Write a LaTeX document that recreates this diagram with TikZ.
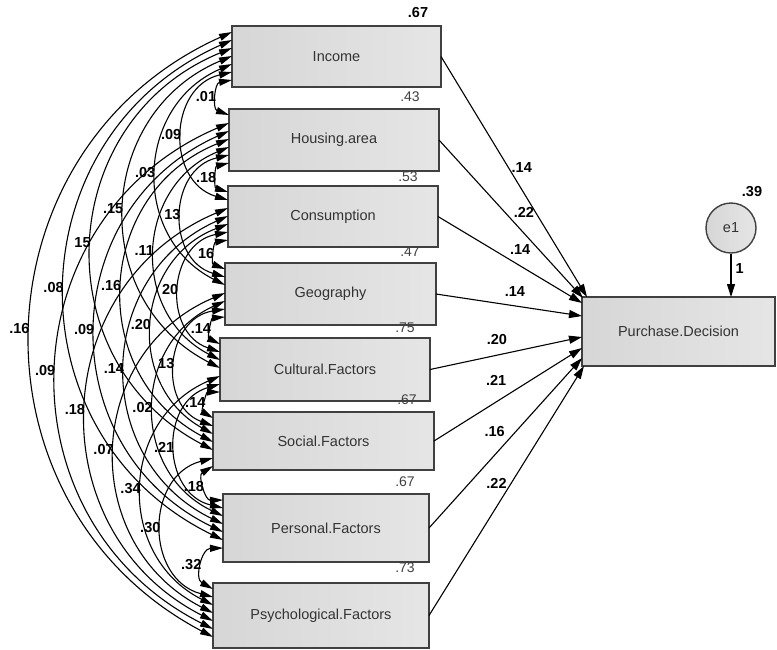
\documentclass[tikz,border=0pt]{standalone}
\usepackage{fontspec}
\setmainfont{Liberation Sans}
\usepackage{tikz}
\usetikzlibrary{positioning, arrows.meta}

\begin{document}
\begin{tikzpicture}[
	x=1pt, y=-1pt,
	font=\fontsize{14.5}{17}\selectfont,
	>={Triangle[length=13pt,width=7pt]},
	% Define styles for the blocks
	var_box/.style={
		draw=black!75,
		line width=1.4pt,
		left color=black!16,
		right color=black!10,
		inner sep=0pt,
		outer sep=0pt,
		text=black!80,
		align=center
	},
	err_circ/.style={
		circle,
		draw=black!75,
		line width=1.4pt,
		left color=black!16,
		right color=black!10,
		inner sep=0pt,
		minimum size=50pt,
		text=black!80
	},
	cov/.style={<->, line width=1.1pt, bend right=65, looseness=1.22},
	cov_short/.style={cov, bend right=75, looseness=1.3},
	path_arrow/.style={-{Triangle[length=13pt,width=8pt]}, line width=1.1pt},
	cov_text/.style={font=\fontsize{14.5}{17}\selectfont\bfseries, inner sep=1pt, anchor=east, pos=.5},
	path_text/.style={font=\fontsize{14.5}{17}\selectfont\bfseries, inner sep=1pt},
	var_text/.style={font=\fontsize{14}{17}\selectfont, text=black!75, inner sep=1pt}
	]
	\useasboundingbox (0,0) rectangle (777,649);
	
	% --- 1. EXOGENOUS VARIABLES ---
	\node[var_box, minimum width=209pt, minimum height=61pt] (inc) at (336.5,56.5) {Income};
	\node[var_box, minimum width=210pt, minimum height=62pt] (hou) at (334,140) {Housing.area};
	\node[var_box, minimum width=210pt, minimum height=61pt] (con) at (333,216.5) {Consumption};
	\node[var_box, minimum width=211pt, minimum height=62pt] (geo) at (330.5,294) {Geography};
	\node[var_box, minimum width=210pt, minimum height=63pt] (cul) at (325,369.5) {Cultural.Factors};
	\node[var_box, minimum width=221pt, minimum height=58pt] (soc) at (323.5,441) {Social.Factors};
	\node[var_box, minimum width=206pt, minimum height=68pt] (per) at (326,528) {Personal.Factors};
	\node[var_box, minimum width=216pt, minimum height=65pt] (psy) at (321,615.5) {Psychological.Factors};
	
	% Variances
	\node[path_text] (v_inc) at ([xshift=-23pt, yshift=13pt]inc.north east) {.67};
	\node[var_text] (v_hou) at ([xshift=-29pt, yshift=12pt]hou.north east) {.43};
	\node[var_text] (v_con) at ([xshift=-30pt, yshift=9pt]con.north east) {.53};
	\node[var_text] (v_geo) at ([xshift=-26pt, yshift=11pt]geo.north east) {.47};
	\node[var_text] (v_cul) at ([xshift=-25pt, yshift=10pt]cul.north east) {.75};
	\node[var_text] (v_soc) at ([xshift=-27pt, yshift=12pt]soc.north east) {.67};
	\node[var_text] (v_per) at ([xshift=-24pt, yshift=12pt]per.north east) {.67};
	\node[var_text] (v_psy) at ([xshift=-24pt, yshift=15pt]psy.north east) {.73};
	
	% --- 2. ENDOGENOUS VARIABLE ---
	\node[var_box, minimum width=193pt, minimum height=69pt] (pd) at (678.5,331.5) {Purchase.Decision};
	\node[err_circ] (e1) at (731,228) {e1};
	\node[path_text] (v_e1) at ([xshift=21pt, yshift=36pt]e1.center) {.39};
	\draw[path_arrow] (e1) -- node[path_text, pos=.35, right=3pt] {1} (e1 |- pd.north);
	
	% --- 3. REGRESSION PATHS ---
	\draw[path_arrow] (inc.east) -- node[path_text, pos=.46, right=2pt] {.14} ([xshift=5pt]pd.north west);
	\draw[path_arrow] (hou.east) -- node[path_text, pos=.46, right=7pt] {.22} ([xshift=1pt, yshift=-1pt]pd.north west);
	\draw[path_arrow] (con.east) -- node[path_text, pos=.57, above=10pt] {.14} ([yshift=-6pt]pd.north west);
	\draw[path_arrow] (geo.east) -- node[path_text, pos=.54, above=8pt] {.14} ([yshift=-19pt]pd.north west);
	\draw[path_arrow] (cul.east) -- node[path_text, pos=.44, above=9pt] {.20} ([yshift=-40pt]pd.north west);
	\draw[path_arrow] (soc.east) -- node[path_text, pos=.42, above=15pt] {.21} ([yshift=-51pt]pd.north west);
	\draw[path_arrow] (per.east) -- node[path_text, pos=.57, left=10pt] {.16} ([yshift=-61pt]pd.north west);
	\draw[path_arrow] (psy.east) -- node[path_text, pos=.53, left=3pt] {.22} ([xshift=2pt]pd.south west);
	
	% --- 4. COVARIANCES ---
	% Neighbours
	\draw[cov_short] ([yshift=-54pt]inc.north west) to node[cov_text] {.01} ([yshift=-6pt]hou.north west);
	\draw[cov_short] ([yshift=-54pt]hou.north west) to node[cov_text] {.18} ([yshift=-6pt]con.north west);
	\draw[cov_short] ([yshift=-54pt]con.north west) to node[cov_text] {16} ([yshift=-6pt]geo.north west);
	\draw[cov_short] ([yshift=-54pt]geo.north west) to node[cov_text] {.14} ([yshift=-6pt]cul.north west);
	\draw[cov_short] ([yshift=-54pt]cul.north west) to node[cov_text] {.14} ([yshift=-6pt]soc.north west);
	\draw[cov_short] ([yshift=-54pt]soc.north west) to node[cov_text] {.18} ([yshift=-6pt]per.north west);
	\draw[cov_short] ([yshift=-54pt]per.north west) to node[cov_text] {.32} ([yshift=-6pt]psy.north west);
	
	% Two apart
	\draw[cov_short] ([yshift=-46pt]inc.north west) to node[cov_text] {.09} ([yshift=-14pt]con.north west);
	\draw[cov_short] ([yshift=-46pt]hou.north west) to node[cov_text] {13} ([yshift=-14pt]geo.north west);
	\draw[cov_short] ([yshift=-46pt]con.north west) to node[cov_text] {20} ([yshift=-14pt]cul.north west);
	\draw[cov_short] ([yshift=-46pt]geo.north west) to node[cov_text] {13} ([yshift=-14pt]soc.north west);
	\draw[cov_short] ([yshift=-46pt]cul.north west) to node[cov_text] {.21} ([yshift=-14pt]per.north west);
	\draw[cov_short] ([yshift=-46pt]soc.north west) to node[cov_text] {.30} ([yshift=-14pt]psy.north west);
	
	% Three apart
	\draw[cov] ([yshift=-38pt]inc.north west) to node[cov_text] {.03} ([yshift=-22pt]geo.north west);
	\draw[cov] ([yshift=-38pt]hou.north west) to node[cov_text] {.11} ([yshift=-22pt]cul.north west);
	\draw[cov] ([yshift=-38pt]con.north west) to node[cov_text] {.20} ([yshift=-22pt]soc.north west);
	\draw[cov] ([yshift=-38pt]geo.north west) to node[cov_text] {.02} ([yshift=-22pt]per.north west);
	\draw[cov] ([yshift=-38pt]cul.north west) to node[cov_text] {.34} ([yshift=-22pt]psy.north west);
	
	% Four apart
	\draw[cov] ([yshift=-30pt]inc.north west) to node[cov_text] {.15} ([yshift=-30pt]cul.north west);
	\draw[cov] ([yshift=-30pt]hou.north west) to node[cov_text] {.16} ([yshift=-30pt]soc.north west);
	\draw[cov] ([yshift=-30pt]con.north west) to node[cov_text] {.14} ([yshift=-30pt]per.north west);
	\draw[cov] ([yshift=-30pt]geo.north west) to node[cov_text] {.07} ([yshift=-30pt]psy.north west);
	
	% Five or more apart
	\draw[cov] ([yshift=-22pt]inc.north west) to node[cov_text] {15} ([yshift=-38pt]soc.north west);
	\draw[cov] ([yshift=-22pt]hou.north west) to node[cov_text] {.09} ([yshift=-38pt]per.north west);
	\draw[cov] ([yshift=-22pt]con.north west) to node[cov_text] {.18} ([yshift=-38pt]psy.north west);
	\draw[cov] ([yshift=-14pt]inc.north west) to node[cov_text] {.08} ([yshift=-46pt]per.north west);
	\draw[cov] ([yshift=-14pt]hou.north west) to node[cov_text] {.09} ([yshift=-46pt]psy.north west);
	\draw[cov, bend right=64, looseness=1.2] ([yshift=-6pt]inc.north west) to node[cov_text] {.16} ([yshift=-54pt]psy.north west);
	
\end{tikzpicture}
\end{document}
